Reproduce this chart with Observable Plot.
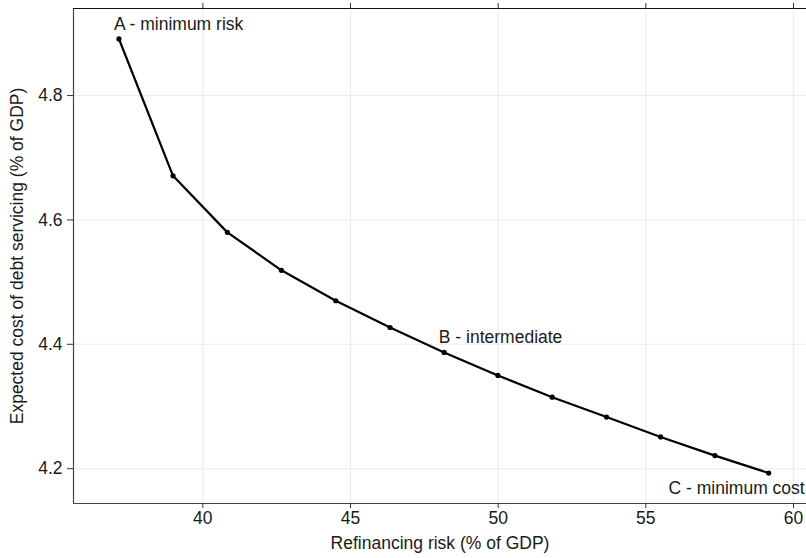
<!DOCTYPE html>
<html>
<head>
<meta charset="utf-8">
<script src="https://cdn.jsdelivr.net/npm/d3@7"></script>
<script src="https://cdn.jsdelivr.net/npm/@observablehq/plot@0.6"></script>
<style>
  html, body { margin: 0; padding: 0; background: white; overflow: hidden; }
  #chart { width: 806px; height: 558px; overflow: hidden; }
</style>
</head>
<body>
<div id="chart"></div>
<script>
const refinancingRisk = [37.16, 38.99, 40.83, 42.66, 44.50, 46.34, 48.17, 49.99, 51.83, 53.67, 55.50, 57.34, 59.16];
const expectedCost = [4.891, 4.671, 4.580, 4.519, 4.470, 4.427, 4.387, 4.350, 4.315, 4.283, 4.251, 4.221, 4.193];

const labelText = ["A - minimum risk", "B - intermediate", "C - minimum cost"];
const labelX = [36.99, 47.99, 55.77];
const labelY = [4.914, 4.411, 4.169];

const xTicks = [40, 45, 50, 55, 60];
const yTicks = [4.2, 4.4, 4.6, 4.8];

const xDomain = [35.62, 60.44];
const yDomain = [4.144, 4.94];

const points = refinancingRisk.map((x, i) => ({x, y: expectedCost[i]}));
const labels = labelText.map((t, i) => ({t, x: labelX[i], y: labelY[i]}));

const fontSize = 17.5;

const chart = Plot.plot({
  width: 806,
  height: 558,
  marginLeft: 73,
  marginRight: 0,
  marginTop: 8,
  marginBottom: 55,
  style: {fontFamily: "'Liberation Sans', Arial, sans-serif", fontSize: fontSize + "px", color: "#1a1a1a", background: "white"},
  x: {domain: xDomain},
  y: {domain: yDomain},
  marks: [
    Plot.gridX(xTicks, {stroke: "#ebebeb", strokeOpacity: 1, strokeWidth: 1.1}),
    Plot.gridY(yTicks, {stroke: "#ebebeb", strokeOpacity: 1, strokeWidth: 1.1}),
    Plot.ruleX([xDomain[0]], {stroke: "#444", strokeWidth: 1.2}),
    Plot.ruleY([yDomain[0]], {stroke: "#444", strokeWidth: 1.2}),
    Plot.ruleY([yDomain[1]], {stroke: "#111", strokeWidth: 1.2}),
    Plot.axisX(xTicks, {anchor: "bottom", tickSize: 5, tickPadding: 3, stroke: "#333", fill: "#1a1a1a",
      label: "Refinancing risk (% of GDP)", labelAnchor: "center", labelArrow: "none", labelOffset: 45}),
    Plot.axisX(xTicks, {anchor: "top", tickSize: 6, tickFormat: () => "", stroke: "#333", label: null}),
    Plot.axisY(yTicks, {anchor: "left", tickSize: 6, tickPadding: 5, stroke: "#333", fill: "#1a1a1a",
      tickFormat: d3.format(".1f"),
      label: "Expected cost of debt servicing (% of GDP)", labelAnchor: "center", labelArrow: "none", labelOffset: 63}),
    Plot.line(points, {x: "x", y: "y", stroke: "black", strokeWidth: 2.2}),
    Plot.dot(points, {x: "x", y: "y", r: 2.6, fill: "black", stroke: "none"}),
    Plot.text(labels, {x: "x", y: "y", text: "t", textAnchor: "start", fill: "#1a1a1a", fontSize: fontSize})
  ]
});
document.getElementById("chart").appendChild(chart);
</script>
</body>
</html>
